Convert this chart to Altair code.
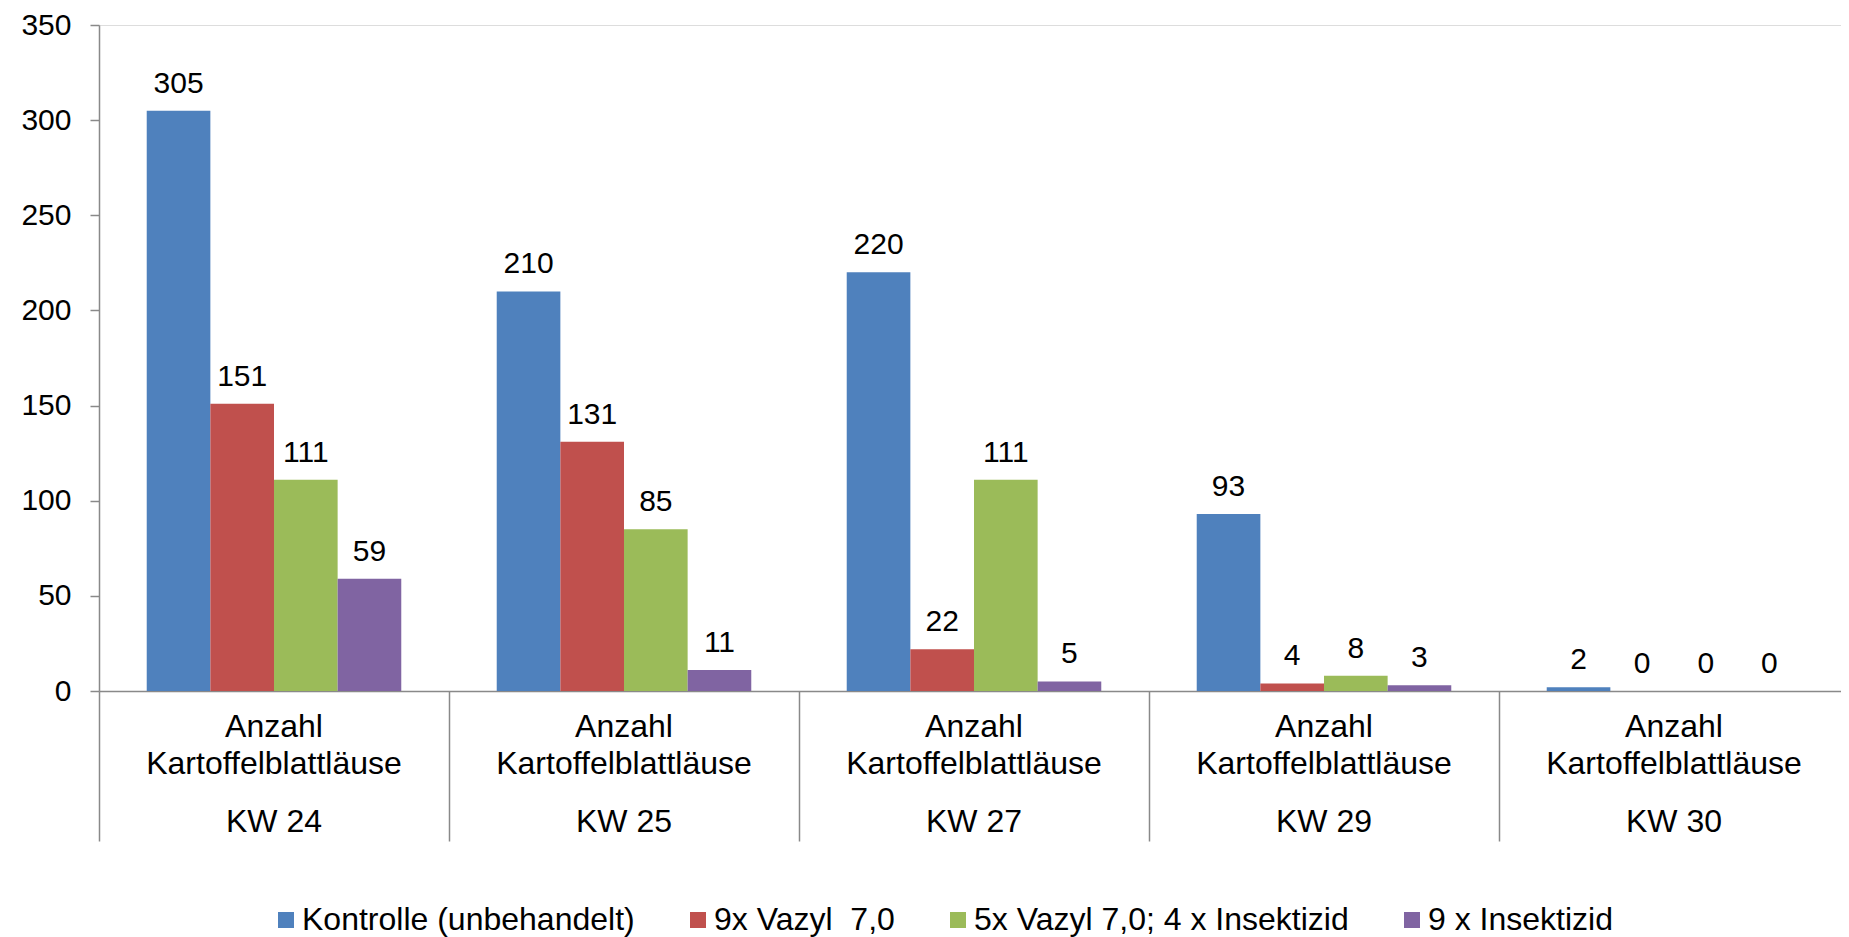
import altair as alt
import pandas as pd

weeks = ["KW 24", "KW 25", "KW 27", "KW 29", "KW 30"]
series = ["Kontrolle (unbehandelt)", "9x Vazyl \u00a07,0", "5x Vazyl 7,0; 4 x Insektizid", "9 x Insektizid"]
kontrolle = [305, 210, 220, 93, 2]
vazyl = [151, 131, 22, 4, 0]
vazyl_insekt = [111, 85, 111, 8, 0]
insekt = [59, 11, 5, 3, 0]
colors = ["#4F81BD", "#C0504D", "#9BBB59", "#8064A2"]
line1 = "Anzahl"
line2 = "Kartoffelblattläuse"

values = [kontrolle, vazyl, vazyl_insekt, insekt]
rows = []
for s, vals in zip(series, values):
    for w, v in zip(weeks, vals):
        rows.append({"week": w, "series": s, "value": v})
df = pd.DataFrame(rows)
cats = pd.DataFrame({"week": weeks, "l1": [line1] * len(weeks), "l2": [line2] * len(weeks)})

FONT = "Liberation Sans, Arial, sans-serif"
GRAY = "#898989"

xscale = alt.Scale(domain=weeks, paddingInner=0, paddingOuter=0, range=[0, 1750])
xaxis = alt.Axis(
    title=None, labels=False, tickBand="extent", tickSize=150, tickColor=GRAY,
    tickWidth=1.5, domainColor=GRAY, domainWidth=1.5, orient="bottom",
)

bars = alt.Chart(df).mark_bar().encode(
    x=alt.X("week:N", scale=xscale, axis=xaxis, sort=weeks),
    xOffset=alt.XOffset("series:N", sort=series,
                        scale=alt.Scale(domain=series, paddingInner=0, paddingOuter=0.75)),
    y=alt.Y("value:Q", scale=alt.Scale(domain=[0, 350], nice=False),
            axis=alt.Axis(title=None, values=list(range(0, 351, 50)), grid=False,
                          tickSize=9, tickColor=GRAY, tickWidth=1.5,
                          domainColor=GRAY, domainWidth=1.5,
                          labelFont=FONT, labelFontSize=30, labelColor="#000000",
                          labelPadding=19)),
    color=alt.Color("series:N", sort=series,
                    scale=alt.Scale(domain=series, range=colors),
                    legend=alt.Legend(title=None, orient="none", direction="horizontal",
                                      legendX=171, legendY=879,
                                      symbolType="square", symbolSize=256,
                                      symbolStrokeWidth=0, symbolOpacity=1,
                                      labelFont=FONT, labelFontSize=32, labelColor="#000000",
                                      labelOffset=0, columnPadding=47, labelLimit=1000,
                                      padding=0)),
)

labels = alt.Chart(df).mark_text(
    font=FONT, fontSize=30, color="#000000", baseline="alphabetic", dy=-18
).encode(
    x=alt.X("week:N", scale=xscale, sort=weeks),
    xOffset=alt.XOffset("series:N", sort=series),
    y=alt.Y("value:Q"),
    text=alt.Text("value:Q"),
)

t1 = alt.Chart(cats).mark_text(font=FONT, fontSize=32, color="#000000", baseline="alphabetic").encode(
    x=alt.X("week:N", scale=xscale, sort=weeks), y=alt.value(712), text="l1:N")
t2 = alt.Chart(cats).mark_text(font=FONT, fontSize=32, color="#000000", baseline="alphabetic").encode(
    x=alt.X("week:N", scale=xscale, sort=weeks), y=alt.value(749), text="l2:N")
t3 = alt.Chart(cats).mark_text(font=FONT, fontSize=32, color="#000000", baseline="alphabetic").encode(
    x=alt.X("week:N", scale=xscale, sort=weeks), y=alt.value(807), text="week:N")

chart = alt.layer(bars, labels, t1, t2, t3).properties(
    width=1742, height=666,
    autosize=alt.AutoSizeParams(type="none"),
    padding={"left": 91, "top": 17, "right": 0, "bottom": 246},
).configure_view(stroke=None).configure(background="white")

chart.save("out.html", embed_options={"renderer": "svg", "actions": False})
